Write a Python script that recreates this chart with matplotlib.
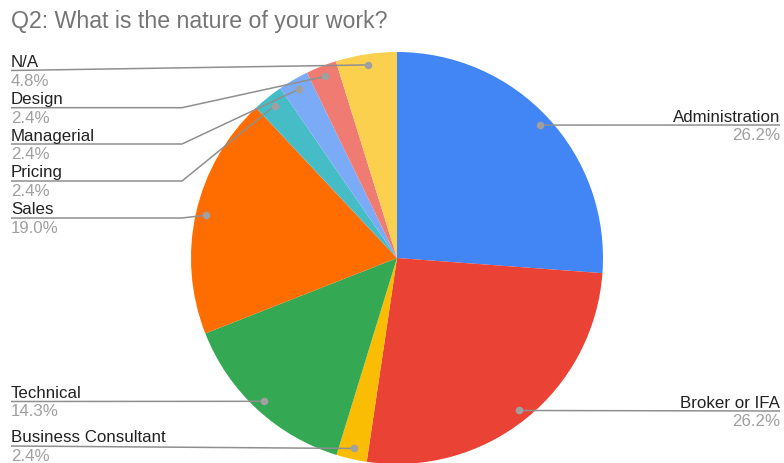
import matplotlib.pyplot as plt
import numpy as np

plt.rcParams['font.family'] = ['Liberation Sans', 'DejaVu Sans']

# survey answers (percent of respondents), clockwise from 12 o'clock
labels = ["Administration", "Broker or IFA", "Business Consultant", "Technical",
          "Sales", "Pricing", "Managerial", "Design", "N/A"]
values = [26.2, 26.2, 2.4, 14.3, 19.0, 2.4, 2.4, 2.4, 4.8]
colors = ["#4285F4", "#EA4335", "#FBBC04", "#34A853", "#FF6D01",
          "#46BDC6", "#7BAAF7", "#F07B72", "#FCD04F"]

W, H = 784, 463
fig = plt.figure(figsize=(W / 100, H / 100), dpi=100)
ax = fig.add_axes([0, 0, 1, 1])

def py(y):
    # pixel row (from top) -> axis y
    return H - y

cx, cy, R = 397, py(258), 206
wedges, _ = ax.pie(values, colors=colors, startangle=90, counterclock=False,
                   center=(cx, cy), radius=R, wedgeprops=dict(linewidth=0))
ax.set_xlim(0, W)
ax.set_ylim(0, H)
ax.set_aspect('equal')
ax.axis('off')

# label layout: side, row of the leader line, x of the elbow (None = straight)
layout = {
    "Administration": ("right", 125, None),
    "Broker or IFA": ("right", 411, None),
    "Business Consultant": ("left", 446, None),
    "Technical": ("left", 401.5, None),
    "Sales": ("left", 218, 182),
    "Pricing": ("left", 181, 182),
    "Managerial": ("left", 144, 182),
    "Design": ("left", 107.7, 182),
    "N/A": ("left", 70.5, None),
}

line_col = "#8f8f8f"
for w, lab, val in zip(wedges, labels, values):
    mid = np.deg2rad((w.theta1 + w.theta2) / 2)
    dx = cx + 0.948 * R * np.cos(mid)
    dy = cy + 0.948 * R * np.sin(mid)
    side, ly, elbow = layout[lab]
    if side == "right":
        xs, ys = [dx, 780], [dy, py(ly)]
        tx, ha = 780, "right"
    else:
        if elbow is None:
            xs, ys = [11, dx], [py(ly), dy]
        else:
            xs, ys = [11, elbow, dx], [py(ly), py(ly), dy]
        tx, ha = 11, "left"
    ax.plot(xs, ys, color=line_col, lw=1.1, solid_capstyle='butt', zorder=3)
    ax.plot(dx, dy, 'o', ms=5.5, color="#a0a0a0", mec='none', zorder=4)
    ax.text(tx, py(ly) + 3.5, lab, ha=ha, va="baseline", fontsize=12.2, color="#222222")
    ax.text(tx, py(ly) - 3, f"{val:.1f}%", ha=ha, va="top", fontsize=12.2, color="#a0a0a0")

ax.text(11, py(28.3), "Q2: What is the nature of your work?", ha="left", va="baseline",
        fontsize=16.7, color="#757575")

fig.savefig("out.png", dpi=100)
